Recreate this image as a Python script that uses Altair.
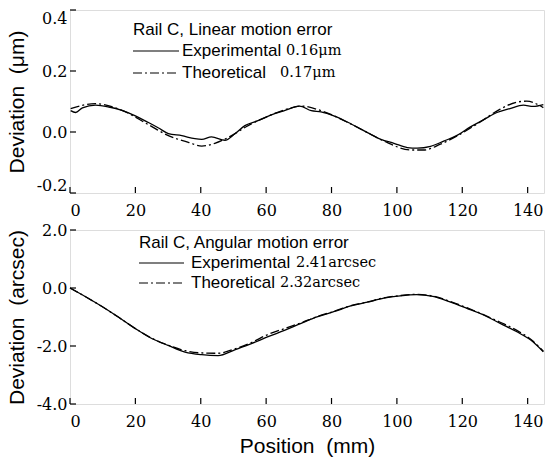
import altair as alt
import pandas as pd

# ---- Data: Rail C, linear motion error (um) ----
lin_exp_pos = [0.2, 1.7, 3.8, 7.8, 11.9, 15.9, 20.0, 24.0, 27.1, 30.1, 34.2, 38.2, 40.3, 43.3,
               47.4, 50.4, 53.5, 57.5, 61.6, 65.6, 70.2, 73.8, 76.8, 80.9, 85.9, 91.0, 95.1,
               99.1, 103.2, 106.2, 110.3, 114.3, 118.4, 122.5, 126.5, 130.6, 134.6, 138.7,
               141.7, 144.8]
lin_exp_dev = [0.070, 0.064, 0.079, 0.088, 0.082, 0.071, 0.053, 0.031, 0.013, -0.005, -0.012,
               -0.022, -0.024, -0.016, -0.027, -0.006, 0.021, 0.037, 0.056, 0.070, 0.085, 0.070,
               0.066, 0.052, 0.027, -0.002, -0.024, -0.037, -0.051, -0.053, -0.047, -0.030,
               -0.011, 0.017, 0.040, 0.064, 0.077, 0.088, 0.084, 0.090]

lin_theo_pos = [0.2, 7.8, 15.9, 24.0, 30.1, 36.2, 40.3, 44.3, 48.4, 54.5, 60.6, 66.7, 70.7,
                76.8, 83.9, 91.0, 97.1, 104.2, 108.2, 113.3, 119.4, 125.5, 131.6, 136.7,
                139.7, 144.8]
lin_theo_dev = [0.077, 0.093, 0.071, 0.024, -0.012, -0.034, -0.046, -0.037, -0.018, 0.021,
                0.052, 0.076, 0.085, 0.070, 0.037, -0.002, -0.035, -0.059, -0.059, -0.040,
                -0.007, 0.033, 0.075, 0.098, 0.101, 0.080]

# ---- Data: Rail C, angular motion error (arcsec) ----
ang_exp_pos = [0, 4.9, 9.8, 15.0, 20.0, 25.0, 30.0, 35.2, 40.3, 45.3, 50.4, 55.5, 60.6, 65.6,
               70.7, 75.8, 80.9, 85.9, 91.0, 96.0, 101.0, 106.0, 111.0, 116.0, 121.4, 126.5,
               131.6, 136.7, 141.7, 144.8]
ang_exp_dev = [0.0, -0.31, -0.64, -1.02, -1.40, -1.74, -1.98, -2.21, -2.30, -2.33, -2.13,
               -1.92, -1.68, -1.46, -1.22, -0.99, -0.81, -0.62, -0.49, -0.35, -0.27, -0.23,
               -0.29, -0.47, -0.70, -0.93, -1.22, -1.51, -1.86, -2.20]

ang_theo_pos = [0, 4.9, 9.8, 15.0, 20.0, 25.0, 30.0, 35.2, 40.3, 45.3, 50.4, 55.5, 60.6, 65.6,
                70.7, 75.8, 80.9, 85.9, 91.0, 96.0, 101.0, 106.0, 111.0, 116.0, 121.4, 126.5,
                131.6, 136.7, 141.7, 144.8]
ang_theo_dev = [0.0, -0.31, -0.64, -1.02, -1.40, -1.73, -1.97, -2.16, -2.24, -2.25, -2.10,
                -1.88, -1.60, -1.40, -1.20, -0.98, -0.80, -0.61, -0.48, -0.34, -0.26, -0.22,
                -0.28, -0.45, -0.68, -0.92, -1.18, -1.46, -1.84, -2.18]

x_tick_values = [0, 20, 40, 60, 80, 100, 120, 140]
lin_tick_values = [-0.2, 0.0, 0.2, 0.4]
ang_tick_values = [-4.0, -2.0, 0.0, 2.0]

W = 474
H1 = 183
H2 = 174

SERIF = "DejaVu Serif"
SANS = "Liberation Sans"
NB = "\u00a0"


def panel(exp_pos, exp_dev, theo_pos, theo_dev, ydom, yticks, ytitle, height, xtitle,
          flush, legend):
    xs = alt.Scale(domain=[0, 145], nice=False, zero=False)
    ys = alt.Scale(domain=ydom, nice=False, zero=False)
    xaxis = alt.Axis(values=x_tick_values, format="d", ticks=False, tickSize=0, domain=False,
                     grid=False, labelPadding=9, labelFont=SERIF, labelFontSize=16,
                     labelColor="black", title=xtitle, titleFont=SANS, titleFontSize=21,
                     titleFontWeight="normal", titleColor="black", titlePadding=6)
    yaxis = alt.Axis(values=yticks, format=".1f", labelExpr="replace(datum.label, '\u2212', '-')",
                     ticks=False, tickSize=0, domain=False, grid=False, labelPadding=3,
                     labelFont=SERIF, labelFontSize=16, labelColor="black", labelFlush=flush,
                     title=ytitle, titleFont=SANS, titleFontSize=21, titleFontWeight="normal",
                     titleColor="black", titlePadding=9)

    exp_df = pd.DataFrame({"pos": exp_pos, "dev": exp_dev})
    theo_df = pd.DataFrame({"pos": theo_pos, "dev": theo_dev})

    exp_line = alt.Chart(exp_df).mark_line(color="black", strokeWidth=1.3, interpolate="monotone").encode(
        x=alt.X("pos:Q", scale=xs, axis=xaxis),
        y=alt.Y("dev:Q", scale=ys, axis=yaxis),
    )
    theo_line = alt.Chart(theo_df).mark_line(color="black", strokeWidth=1.3,
                                             strokeDash=[9, 3, 2, 3], interpolate="monotone").encode(
        x=alt.X("pos:Q", scale=xs),
        y=alt.Y("dev:Q", scale=ys),
    )
    xt = alt.Chart(pd.DataFrame({"t": x_tick_values})).mark_rule(color="black", strokeWidth=1.2).encode(
        x=alt.X("t:Q", scale=xs), y=alt.value(height), y2=alt.value(height - 6))
    yt = alt.Chart(pd.DataFrame({"t": yticks})).mark_rule(color="black", strokeWidth=1.2).encode(
        y=alt.Y("t:Q", scale=ys), x=alt.value(0), x2=alt.value(6))

    layers = [exp_line, theo_line, xt, yt]
    one = alt.Data(values=[{"a": 1}])
    (hx, hy, title_txt, lx0, lx1, r2y, r3y, tx, v1x, v1, v2x, v2) = legend
    layers.append(alt.Chart(one).mark_text(text=title_txt, font=SANS, fontSize=17, align="left",
                                           baseline="middle", color="black")
                  .encode(x=alt.value(hx), y=alt.value(hy)))
    layers.append(alt.Chart(one).mark_rule(color="black", strokeWidth=1.2)
                  .encode(x=alt.value(lx0), x2=alt.value(lx1), y=alt.value(r2y)))
    layers.append(alt.Chart(one).mark_rule(color="black", strokeWidth=1.2, strokeDash=[9, 3, 2, 3])
                  .encode(x=alt.value(lx0), x2=alt.value(lx1), y=alt.value(r3y)))
    layers.append(alt.Chart(one).mark_text(text="Experimental", font=SANS, fontSize=17, align="left",
                                           baseline="middle", color="black")
                  .encode(x=alt.value(tx), y=alt.value(r2y)))
    layers.append(alt.Chart(one).mark_text(text="Theoretical", font=SANS, fontSize=17, align="left",
                                           baseline="middle", color="black")
                  .encode(x=alt.value(tx), y=alt.value(r3y)))
    layers.append(alt.Chart(one).mark_text(text=v1, font=SERIF, fontSize=14.5, align="left",
                                           baseline="middle", color="black")
                  .encode(x=alt.value(v1x), y=alt.value(r2y)))
    layers.append(alt.Chart(one).mark_text(text=v2, font=SERIF, fontSize=14.5, align="left",
                                           baseline="middle", color="black")
                  .encode(x=alt.value(v2x), y=alt.value(r3y)))

    return alt.layer(*layers).properties(width=W, height=height)


top = panel(lin_exp_pos, lin_exp_dev, lin_theo_pos, lin_theo_dev, [-0.2, 0.4], lin_tick_values,
            "Deviation" + NB + NB + "(\u03bcm)", H1, None, True,
            (63, 20, "Rail C, Linear motion error", 63, 109, 41, 63, 112, 216, "0.16\u03bcm",
             210, "0.17\u03bcm"))
bottom = panel(ang_exp_pos, ang_exp_dev, ang_theo_pos, ang_theo_dev, [-4.0, 2.0], ang_tick_values,
               "Deviation" + NB + NB + "(arcsec)", H2, "Position" + NB + NB + "(mm)", False,
               (69, 13, "Rail C, Angular motion error", 69, 114, 33, 53, 121, 226, "2.41arcsec",
                210, "2.32arcsec"))

chart = alt.vconcat(top, bottom, spacing=37, bounds="flush").properties(
    padding={"left": 5, "top": 8, "right": 0, "bottom": 2}
).configure_view(stroke="black", strokeWidth=1.5).configure(background="white")

chart.save("out.html", embed_options={"renderer": "svg", "actions": False})
